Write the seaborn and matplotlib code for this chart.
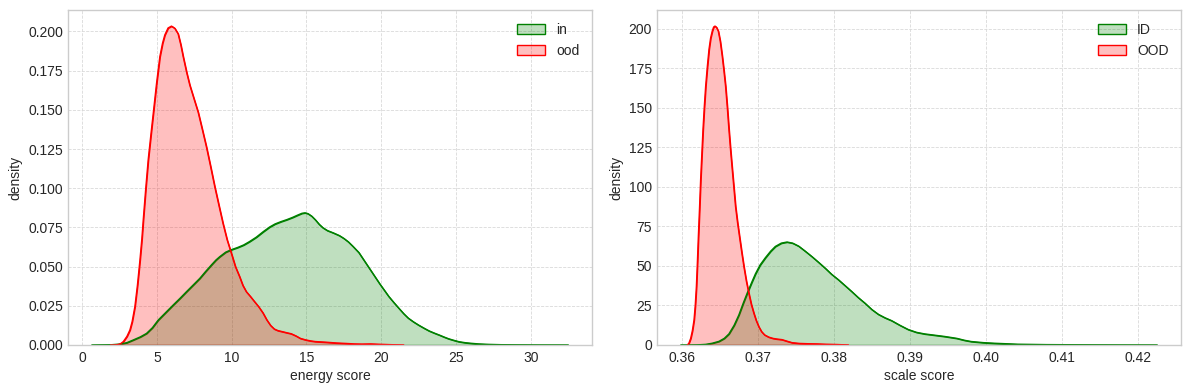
import numpy as np
import pandas as pd
import seaborn as sns
import matplotlib
matplotlib.use("Agg")
import matplotlib.pyplot as plt
from matplotlib.colors import to_rgba

# density curves
energy_in_x = [0.65, 1.5, 2.0, 2.53, 3.0, 3.42, 3.9, 4.31, 4.7, 5.09, 5.6, 6.09, 6.55,
               6.98, 7.4, 7.87, 8.25, 8.64, 8.95, 9.2, 9.6, 9.98, 10.4, 10.8, 11.2,
               11.65, 12.1, 12.53, 12.9, 13.3, 13.7, 14.1, 14.4, 14.7, 14.9, 15.1,
               15.35, 15.6, 15.85, 16.1, 16.4, 16.8, 17.2, 17.5, 17.8, 18.1, 18.5,
               18.85, 19.2, 19.55, 19.9, 20.2, 20.5, 20.85, 21.2, 21.5, 21.8, 22.15,
               22.5, 22.85, 23.2, 23.55, 23.9, 24.2, 24.5, 24.85, 25.2, 25.6, 26.0,
               26.5, 27.2, 28.0, 29.0, 30.5, 32.5]
energy_in_y = [0.0, 0.0001, 0.0002, 0.0006, 0.0015, 0.0032, 0.0052, 0.0074, 0.011,
               0.0159, 0.0208, 0.0255, 0.0298, 0.034, 0.038, 0.0425, 0.0468, 0.051,
               0.0542, 0.0563, 0.0592, 0.0608, 0.0622, 0.0638, 0.066, 0.0688, 0.0722,
               0.0752, 0.0772, 0.0787, 0.08, 0.0815, 0.0828, 0.084, 0.0843, 0.0838,
               0.0822, 0.0798, 0.077, 0.0748, 0.073, 0.0715, 0.0698, 0.068, 0.0658,
               0.063, 0.059, 0.054, 0.049, 0.044, 0.039, 0.035, 0.031, 0.027, 0.0232,
               0.02, 0.0172, 0.0148, 0.0127, 0.0108, 0.009, 0.0076, 0.0063, 0.0051,
               0.004, 0.003, 0.0021, 0.0015, 0.0011, 0.0007, 0.0004, 0.0002, 0.0001,
               0.00003, 0.0]

energy_ood_x = [1.9, 2.2, 2.42, 2.6, 2.76, 3.0, 3.2, 3.35, 3.53, 3.7, 3.87, 4.0, 4.09,
                4.25, 4.42, 4.6, 4.76, 4.98, 5.2, 5.38, 5.53, 5.75, 5.98, 6.2, 6.42,
                6.6, 6.76, 7.0, 7.2, 7.5, 7.76, 8.0, 8.31, 8.6, 8.87, 9.15, 9.42,
                9.7, 9.98, 10.25, 10.53, 10.75, 10.98, 11.25, 11.5, 11.8, 12.09,
                12.35, 12.6, 12.85, 13.09, 13.4, 13.7, 13.98, 14.3, 14.6, 14.98,
                15.3, 15.6, 16.3, 17.0, 17.65, 18.2, 18.7, 19.3, 19.8, 20.4, 21.0,
                21.5]
energy_ood_y = [0.0, 0.00005, 0.0003, 0.001, 0.0022, 0.0055, 0.0096, 0.015, 0.0244,
                0.038, 0.0542, 0.068, 0.0797, 0.099, 0.118, 0.134, 0.1478, 0.1669,
                0.1839, 0.1925, 0.1977, 0.2022, 0.2034, 0.202, 0.1985, 0.1915,
                0.1839, 0.1735, 0.1658, 0.1565, 0.1485, 0.139, 0.1265, 0.1135, 0.101,
                0.089, 0.0776, 0.067, 0.0585, 0.05, 0.0436, 0.038, 0.034, 0.031,
                0.028, 0.0245, 0.0205, 0.016, 0.0125, 0.0102, 0.0092, 0.0085, 0.0078,
                0.0072, 0.0058, 0.0042, 0.0032, 0.0026, 0.0022, 0.0018, 0.0013, 0.001,
                0.0007, 0.0006, 0.0007, 0.0005, 0.0003, 0.0001, 0.0]

scale_id_x = [0.35987, 0.3612, 0.362, 0.36315, 0.364, 0.3649, 0.3656, 0.36621, 0.3669,
              0.36752, 0.3681, 0.36861, 0.3692, 0.3697, 0.3703, 0.37101, 0.3717,
              0.37232, 0.3731, 0.37385, 0.3746, 0.37539, 0.3762, 0.37713, 0.378,
              0.37887, 0.3797, 0.38063, 0.3815, 0.38237, 0.3832, 0.38412, 0.385,
              0.38587, 0.38675, 0.38762, 0.3887, 0.3898, 0.3909, 0.39198, 0.3933,
              0.3946, 0.3962, 0.3972, 0.3981, 0.3997, 0.4012, 0.4042, 0.408, 0.414,
              0.418, 0.42256]
scale_id_y = [0.0, 0.02, 0.08, 0.4, 1.1, 2.3, 4.2, 7.0, 12.5, 19.0, 26.5, 32.7, 39.5,
              45.0, 50.5, 55.2, 59.3, 62.3, 64.4, 65.1, 64.4, 62.5, 59.5, 55.9, 52.3,
              48.6, 44.8, 41.2, 37.5, 33.8, 30.1, 26.4, 22.5, 19.4, 17.2, 15.4, 12.5,
              9.8, 8.0, 7.0, 6.2, 5.4, 4.2, 3.0, 2.2, 1.5, 1.1, 0.5, 0.25, 0.1, 0.04,
              0.0]

scale_ood_x = [0.36075, 0.36095, 0.36118, 0.3614, 0.36162, 0.36178, 0.36193, 0.36206,
               0.36219, 0.36234, 0.36249, 0.36265, 0.3628, 0.36297, 0.36315, 0.36337,
               0.36359, 0.3638, 0.36402, 0.3642, 0.36438, 0.36458, 0.36481, 0.36507,
               0.36533, 0.36555, 0.36577, 0.366, 0.36621, 0.36643, 0.36665, 0.36687,
               0.36708, 0.36734, 0.3676, 0.3679, 0.36818, 0.3685, 0.36883, 0.36915,
               0.36949, 0.3698, 0.37014, 0.3705, 0.3709, 0.37145, 0.372, 0.3725,
               0.3732, 0.3738, 0.37451, 0.3755, 0.3767, 0.3778, 0.3789, 0.3805,
               0.38194]
scale_ood_y = [0.0, 1.2, 4.2, 9.0, 15.8, 25.0, 36.9, 52.0, 68.6, 86.0, 104.5, 121.0,
               136.2, 150.5, 163.6, 176.0, 186.9, 194.0, 198.5, 201.0, 201.6, 200.8,
               198.5, 192.0, 182.6, 173.5, 163.6, 150.0, 136.2, 123.0, 110.9, 99.0,
               87.6, 77.5, 68.6, 58.5, 49.6, 40.5, 32.7, 25.8, 20.1, 15.5, 11.6, 8.5,
               6.4, 5.0, 4.2, 3.8, 3.4, 2.5, 1.5, 1.0, 0.8, 0.7, 0.5, 0.3, 0.0]

panels = [
    ("energy score", [("in", energy_in_x, energy_in_y, "green"),
                      ("ood", energy_ood_x, energy_ood_y, "red")]),
    ("scale score", [("ID", scale_id_x, scale_id_y, "green"),
                     ("OOD", scale_ood_x, scale_ood_y, "red")]),
]

plt.style.use("seaborn-v0_8-whitegrid")
fig, axes = plt.subplots(1, 2, figsize=(11.9, 3.9), dpi=100)

for ax, (xlabel, curves) in zip(axes, panels):
    for label, xs, ys, color in curves:
        df = pd.DataFrame({"x": xs, "y": ys})
        ax.fill_between(df["x"], df["y"], facecolor=to_rgba(color, 0.25),
                        edgecolor=color, linewidth=1, label=label)
        sns.lineplot(data=df, x="x", y="y", color=color, linewidth=1, ax=ax,
                     legend=False)
    ax.set_ylim(bottom=0)
    ax.set_xlabel(xlabel, labelpad=3)
    ax.set_ylabel("density")
    ax.tick_params(axis="x", pad=4)
    ax.grid(True, linestyle="--", linewidth=0.6, color="0.85")
    ax.legend(loc="upper right")

fig.subplots_adjust(left=0.0571, right=0.9924, bottom=0.1154, top=0.974,
                    wspace=0.1238)
plt.savefig("out.png")
